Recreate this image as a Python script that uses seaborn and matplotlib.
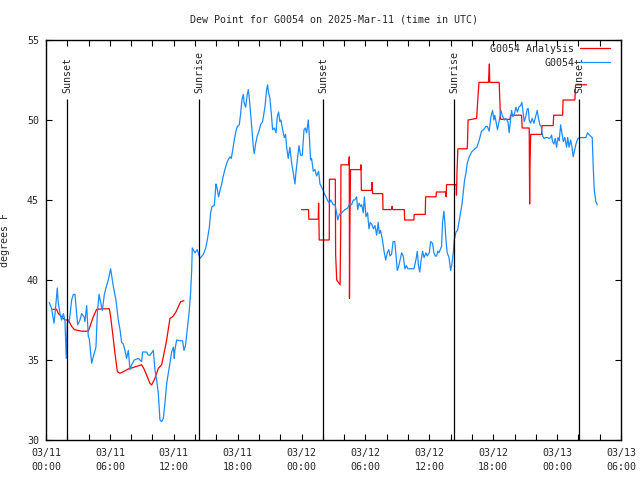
# Dew point time series for station G0054 vs. analysis
import numpy as np
import pandas as pd
import seaborn as sns
import matplotlib.pyplot as plt
import matplotlib.dates as mdates

start = pd.Timestamp("2025-03-11 00:00")

# observations (hours since 03/11 00:00 UTC, deg F)
obs_hours = [0.31, 0.53, 0.75, 0.85, 1.06, 1.15, 1.31, 1.47, 1.63, 1.78, 1.85, 1.90, 2.00, 2.20, 2.41,
             2.57, 2.72, 2.88, 2.97, 3.19, 3.35, 3.57, 3.66, 3.82, 3.97, 4.07, 4.29, 4.44, 4.69, 4.82,
             4.98, 5.13, 5.29, 5.48, 5.63, 5.85, 6.07, 6.32, 6.57, 6.79, 6.95, 7.10, 7.26, 7.42, 7.57,
             7.73, 7.89, 8.04, 8.29, 8.67, 8.98, 9.07, 9.45, 9.60, 9.76, 10.08, 10.23, 10.39, 10.55,
             10.70, 10.86, 11.02, 11.17, 11.33, 11.49, 11.64, 11.80, 11.96, 12.05, 12.10, 12.27, 12.58,
             12.83, 12.96, 13.10, 13.27, 13.43, 13.58, 13.68, 13.74, 13.99, 14.20, 14.46, 14.77, 15.00,
             15.15, 15.34, 15.46, 15.59, 15.80, 15.87, 15.96, 16.05, 16.21, 16.34, 16.50, 16.65, 16.80,
             16.97, 17.10, 17.28, 17.40, 17.53, 17.68, 17.84, 17.97, 18.15, 18.28, 18.40, 18.53, 18.60,
             18.75, 18.90, 19.00, 19.09, 19.22, 19.34, 19.47, 19.56, 19.68, 19.84, 20.00, 20.15, 20.34,
             20.56, 20.72, 20.81, 20.90, 21.03, 21.16, 21.28, 21.44, 21.60, 21.72, 21.84, 21.97, 22.07,
             22.22, 22.38, 22.50, 22.60, 22.75, 22.90, 23.07, 23.22, 23.38, 23.47, 23.60, 23.76, 23.90,
             24.07, 24.23, 24.35, 24.48, 24.63, 24.73, 24.85, 24.94, 25.10, 25.25, 25.42, 25.60, 25.73,
             25.88, 26.04, 26.13, 26.30, 26.42, 26.60, 26.75, 26.98, 27.15, 27.29, 27.40, 27.55, 27.76,
             28.08, 28.33, 28.54, 28.70, 28.86, 29.00, 29.17, 29.27, 29.40, 29.55, 29.65, 29.80, 29.90,
             30.05, 30.20, 30.33, 30.45, 30.58, 30.75, 30.90, 31.05, 31.20, 31.30, 31.42, 31.60, 31.77,
             31.90, 32.05, 32.20, 32.30, 32.45, 32.60, 32.75, 32.85, 32.99, 33.10, 33.20, 33.40, 33.55,
             33.70, 33.85, 33.98, 34.18, 34.35, 34.55, 34.74, 34.87, 34.98, 35.10, 35.22, 35.37, 35.50,
             35.68, 35.80, 36.00, 36.12, 36.30, 36.43, 36.55, 36.68, 36.80, 36.90, 37.15, 37.24, 37.37,
             37.47, 37.56, 37.68, 37.85, 38.00, 38.12, 38.25, 38.34, 38.50, 38.65, 38.80, 38.93, 39.06,
             39.19, 39.31, 39.44, 39.56, 39.75, 39.97, 40.28, 40.47, 40.69, 40.90, 41.10, 41.31, 41.45,
             41.62, 41.78, 41.94, 42.06, 42.15, 42.31, 42.40, 42.55, 42.72, 42.85, 43.03, 43.18, 43.38,
             43.50, 43.62, 43.72, 43.85, 44.00, 44.13, 44.28, 44.40, 44.57, 44.69, 44.80, 44.91, 45.05,
             45.20, 45.30, 45.38, 45.50, 45.66, 45.82, 45.98, 46.13, 46.25, 46.38, 46.50, 46.64, 46.79,
             46.95, 47.10, 47.25, 47.38, 47.48, 47.57, 47.70, 47.82, 47.95, 48.08, 48.20, 48.33, 48.45,
             48.58, 48.72, 48.89, 49.00, 49.12, 49.27, 49.40, 49.51, 49.64, 49.77, 49.95, 50.20, 50.45,
             50.70, 50.86, 51.05, 51.30, 51.39, 51.49, 51.64, 51.77]
obs_dewpt = [38.6, 38.2, 37.3, 37.9, 39.5, 38.6, 37.9, 37.5, 37.9, 37.5, 36.1, 35.1, 37.3, 37.5, 38.75,
             39.1, 39.1, 37.9, 37.2, 37.5, 37.9, 37.7, 37.4, 38.4, 36.5, 36.3, 34.8, 35.2, 35.8, 37.9,
             39.1, 38.6, 38.1, 39.1, 39.5, 40.0, 40.7, 39.6, 38.75, 37.5, 36.9, 36.1, 36.0, 35.6, 35.1,
             35.6, 34.4, 34.7, 35.0, 35.1, 34.9, 35.5, 35.5, 35.3, 35.3, 35.6, 34.4, 33.75, 32.9,
             31.25, 31.15, 31.35, 32.3, 33.5, 34.2, 34.8, 35.5, 35.8, 35.1, 35.6, 36.25, 36.2,
             36.2, 35.6, 35.9, 36.9, 37.9, 39.2, 40.6, 42.0, 41.7, 41.9, 41.35, 41.6, 42.0,
             42.5, 43.3, 44.2, 44.6, 44.65, 45.2, 46.0, 45.8, 45.2, 45.6, 46.0, 46.5, 46.9,
             47.3, 47.5, 47.7, 47.6, 48.1, 48.75, 49.3, 49.6, 49.7, 50.4, 51.25, 51.6, 51.1,
             50.8, 51.6, 51.9, 51.4, 50.4, 49.4, 48.3, 47.9, 48.5, 49.0, 49.3, 49.7, 49.9,
             50.8, 51.9, 52.2, 51.7, 51.35, 50.4, 49.4, 49.5, 49.2, 50.2, 50.5, 49.9, 50.0,
             49.4, 48.9, 49.1, 48.3, 47.6, 48.3, 47.3, 46.7, 46.0, 46.7, 47.5, 48.4, 47.8,
             47.8, 49.4, 49.5, 49.2, 50.0, 49.0, 47.5, 47.6, 46.8, 46.9, 46.5, 46.8, 46.0,
             45.8, 45.6, 45.4, 45.2, 45.0, 44.8, 45.0, 44.7, 44.7, 44.2, 43.75, 44.1, 44.2,
             44.4, 44.5, 44.8, 44.7, 45.0, 45.0, 45.2, 44.4, 44.8, 44.6, 44.7, 44.2, 45.2,
             43.96, 44.2, 43.2, 43.6, 43.5, 43.2, 43.4, 42.8, 43.6, 42.9, 43.1, 42.5, 41.7,
             41.25, 41.7, 41.9, 41.5, 41.6, 42.4, 42.4, 41.7, 40.6, 40.8, 41.1, 41.7, 41.5,
             40.7, 40.9, 40.7, 40.7, 40.7, 40.7, 41.25, 41.8, 40.9, 40.5, 41.2, 41.8, 41.4,
             41.7, 41.5, 41.7, 42.4, 42.3, 41.7, 41.5, 41.5, 41.8, 41.7, 42.1, 43.6, 44.3,
             43.5, 42.5, 41.7, 41.4, 40.6, 41.0, 41.7, 42.5, 43.0, 43.1, 43.7, 44.2, 44.7,
             45.5, 46.25, 46.7, 47.3, 47.7, 48.0, 48.2, 48.3, 48.75, 49.3, 49.4, 49.6, 49.6,
             49.3, 50.2, 50.6, 50.0, 50.3, 49.7, 49.4, 49.9, 50.6, 50.3, 50.0, 50.1, 49.9,
             49.2, 50.0, 50.6, 50.2, 50.4, 50.8, 50.5, 50.8, 50.9, 51.1, 50.5, 49.9, 50.2,
             50.7, 50.7, 50.0, 49.8, 50.1, 49.8, 50.2, 50.6, 50.1, 49.7, 49.6, 49.0, 48.85,
             48.9, 48.9, 48.85, 48.9, 49.06, 48.65, 48.5, 48.85, 48.3, 48.9, 48.7, 49.7, 49.2,
             48.65, 48.9, 48.3, 48.9, 48.3, 48.75, 48.3, 47.7, 48.1, 48.5, 48.85, 48.9, 48.9,
             48.9, 49.2, 49.05, 48.9, 47.1, 45.6, 44.9, 44.7]

# analysis, first stretch (03/11)
ana1_hours = [0.63, 0.99, 1.16, 1.47, 1.78, 2.10, 2.41, 2.66, 3.35, 3.97, 4.13, 4.44, 4.76, 5.38, 5.95,
              6.07, 6.26, 6.48, 6.70, 6.95, 7.26, 7.73, 8.04, 8.51, 8.98, 9.20, 9.45, 9.76, 9.92,
              10.23, 10.55, 10.86, 11.08, 11.33, 11.64, 11.89, 12.20, 12.65, 12.96]
ana1_dewpt = [38.17, 38.17, 37.9, 37.7, 37.5, 37.5, 37.1, 36.9, 36.8, 36.8, 37.1, 37.7, 38.17, 38.2, 38.2,
              37.7, 36.67, 35.4, 34.27, 34.17, 34.27, 34.44, 34.5, 34.6, 34.7, 34.45, 34.06, 33.54, 33.44,
              33.85, 34.48, 34.7, 35.4, 36.25, 37.6, 37.7, 38.0, 38.65, 38.7]

# analysis, second stretch (03/12 - 03/13)
ana2_hours = [24.00, 24.66, 24.68, 25.57, 25.60, 25.66, 26.60, 26.62, 27.17, 27.20, 27.30, 27.62, 27.68,
              27.70, 28.45, 28.48, 28.50, 28.55, 28.60, 29.55, 29.58, 29.62, 30.58, 30.62, 30.68, 31.62,
              31.65, 32.45, 32.50, 32.55, 33.65, 33.68, 34.55, 34.58, 35.62, 35.65, 36.63, 36.66, 37.56,
              37.58, 37.62, 38.52, 38.55, 38.60, 38.68, 39.55, 39.58, 39.64, 40.44, 40.55, 40.66, 41.55,
              41.60, 41.64, 41.67, 42.56, 42.62, 42.67, 42.70, 43.57, 43.63, 44.66, 44.72, 45.38, 45.40,
              45.42, 45.45, 45.52, 46.54, 46.58, 47.63, 47.68, 48.52, 48.56, 49.67, 49.73, 50.77]
ana2_dewpt = [44.4, 44.4, 43.8, 43.8, 44.8, 42.5, 42.5, 46.3, 46.3, 41.6, 40.0, 39.7, 43.4,
              47.2, 47.2, 47.7, 38.85, 44.1, 46.9, 46.9, 47.2, 45.6, 45.6, 46.1, 45.4, 45.4,
              44.4, 44.4, 44.6, 44.4, 44.4, 43.75, 43.75, 44.1, 44.1, 45.2, 45.2, 45.5, 45.5,
              45.2, 45.96, 45.96, 45.3, 46.8, 48.2, 48.2, 48.5, 50.0, 50.1, 51.25, 52.35, 52.35,
              52.9, 53.5, 52.35, 52.35, 51.25, 50.3, 50.04, 50.04, 50.3, 50.3, 49.5, 49.5, 47.1,
              44.75, 47.1, 49.1, 49.1, 49.65, 49.65, 50.3, 50.3, 51.25, 51.25, 52.2, 52.2]

sun_hours = [2.0, 14.4, 26.04, 38.34, 50.08]
sun_labels = ["Sunset", "Sunrise", "Sunset", "Sunrise", "Sunset"]


def to_time(hours):
    return start + pd.to_timedelta(hours, unit="h")


df = pd.concat([
    pd.DataFrame({"time": to_time(ana1_hours), "dewpt": ana1_dewpt, "series": "G0054 Analysis", "part": "a1"}),
    pd.DataFrame({"time": to_time(ana2_hours), "dewpt": ana2_dewpt, "series": "G0054 Analysis", "part": "a2"}),
    pd.DataFrame({"time": to_time(obs_hours), "dewpt": obs_dewpt, "series": "G0054", "part": "obs"}),
], ignore_index=True)

sns.set_style("ticks", {"xtick.direction": "in", "ytick.direction": "in"})
plt.rcParams["font.family"] = ["DejaVu Sans Mono"]
plt.rcParams["font.size"] = 7.2

fig = plt.figure(figsize=(6.4, 4.8), dpi=100)
ax = fig.add_axes([46 / 640, 40 / 480, 575 / 640, 400 / 480])

sns.lineplot(data=df, x="time", y="dewpt", hue="series", units="part", estimator=None, sort=False,
             hue_order=["G0054 Analysis", "G0054"], palette=["#ff0000", "#1a8cff"], lw=0.9, ax=ax)

# sunrise / sunset markers
sun_times = to_time(sun_hours)
ax.vlines(sun_times, 30, 51.3, colors="black", lw=0.9)
for t, lab in zip(sun_times, sun_labels):
    ax.text(mdates.date2num(t.to_pydatetime()), 51.7, lab, rotation=90, ha="center", va="bottom")

ax.set_xlim(start, start + pd.Timedelta(hours=54))
ax.set_ylim(30, 55)
ax.set_yticks(np.arange(30, 56, 5))
ax.xaxis.set_major_locator(mdates.HourLocator(byhour=[0, 6, 12, 18]))
ax.xaxis.set_minor_locator(mdates.HourLocator(interval=2))
ax.xaxis.set_major_formatter(mdates.DateFormatter("%m/%d\n%H:%M"))
for lbl in ax.get_xticklabels():
    lbl.set_linespacing(1.5)
ax.tick_params(which="both", direction="in", top=True, right=True, length=4, width=0.8, color="black")
ax.tick_params(axis="x", pad=6)
ax.tick_params(axis="y", pad=5)
for s in ax.spines.values():
    s.set_linewidth(1)
    s.set_color("black")

ax.set_xlabel("")
ax.set_ylabel("degrees F")
ax.yaxis.set_label_coords(-0.063, 0.5)

handles, labels = ax.get_legend_handles_labels()
ax.legend(handles, labels, loc="upper right", bbox_to_anchor=(0.981, 0.99), frameon=False,
          markerfirst=False, handlelength=3.0, handletextpad=0.6, borderpad=0, borderaxespad=0,
          labelspacing=0.4)

fig.text(333.5 / 640, 1 - 19 / 480, "Dew Point for G0054 on 2025-Mar-11 (time in UTC)",
         ha="center", va="center")

fig.savefig("out.png", dpi=100)
